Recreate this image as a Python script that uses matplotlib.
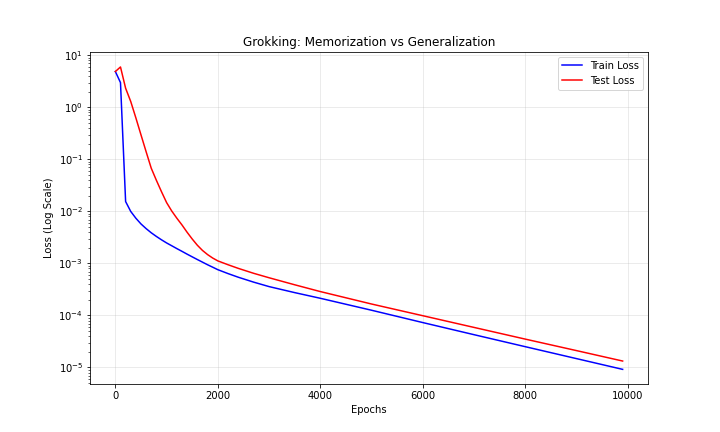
import matplotlib
matplotlib.use('Agg')
import matplotlib.pyplot as plt

# values
epochs = [0, 100, 200, 300, 400, 500, 600, 700, 800, 900, 1000, 1100, 1200,
          1300, 1400, 1500, 1600, 1700, 1800, 1900, 2000, 2200, 2400, 2700,
          3000, 3500, 4000, 5000, 6000, 7000, 8000, 9000, 9900]

train_loss = [4.9, 3.0, 0.0155, 0.0100, 0.00741, 0.00575, 0.00468, 0.00389,
              0.00331, 0.00285, 0.00248, 0.00219, 0.00193, 0.00171, 0.00151,
              0.00134, 0.00119, 0.00106, 0.000944, 0.000847, 0.000759,
              0.000638, 0.000543, 0.000437, 0.000359, 0.000275, 0.000214,
              0.000126, 7.3e-5, 4.27e-5, 2.51e-5, 1.48e-5, 9.2e-6]

test_loss = [4.9, 6.0, 2.34, 1.30, 0.63, 0.297, 0.141, 0.0679, 0.0398,
             0.0240, 0.0148, 0.0102, 0.00741, 0.00550, 0.00398, 0.00295,
             0.00224, 0.00178, 0.00148, 0.00127, 0.00112, 0.000944,
             0.000804, 0.000646, 0.000531, 0.000389, 0.000288, 0.000166,
             9.89e-5, 5.89e-5, 3.51e-5, 2.11e-5, 1.33e-5]

fig, ax = plt.subplots(figsize=(10, 6), dpi=72)

ax.plot(epochs, train_loss, color='blue', label='Train Loss')
ax.plot(epochs, test_loss, color='red', label='Test Loss')

ax.set_yscale('log')
ax.set_xlabel('Epochs')
ax.set_ylabel('Loss (Log Scale)')
ax.set_title('Grokking: Memorization vs Generalization')
ax.legend(loc='upper right')
ax.grid(True, alpha=0.3)

plt.savefig('out.png', dpi=72)
